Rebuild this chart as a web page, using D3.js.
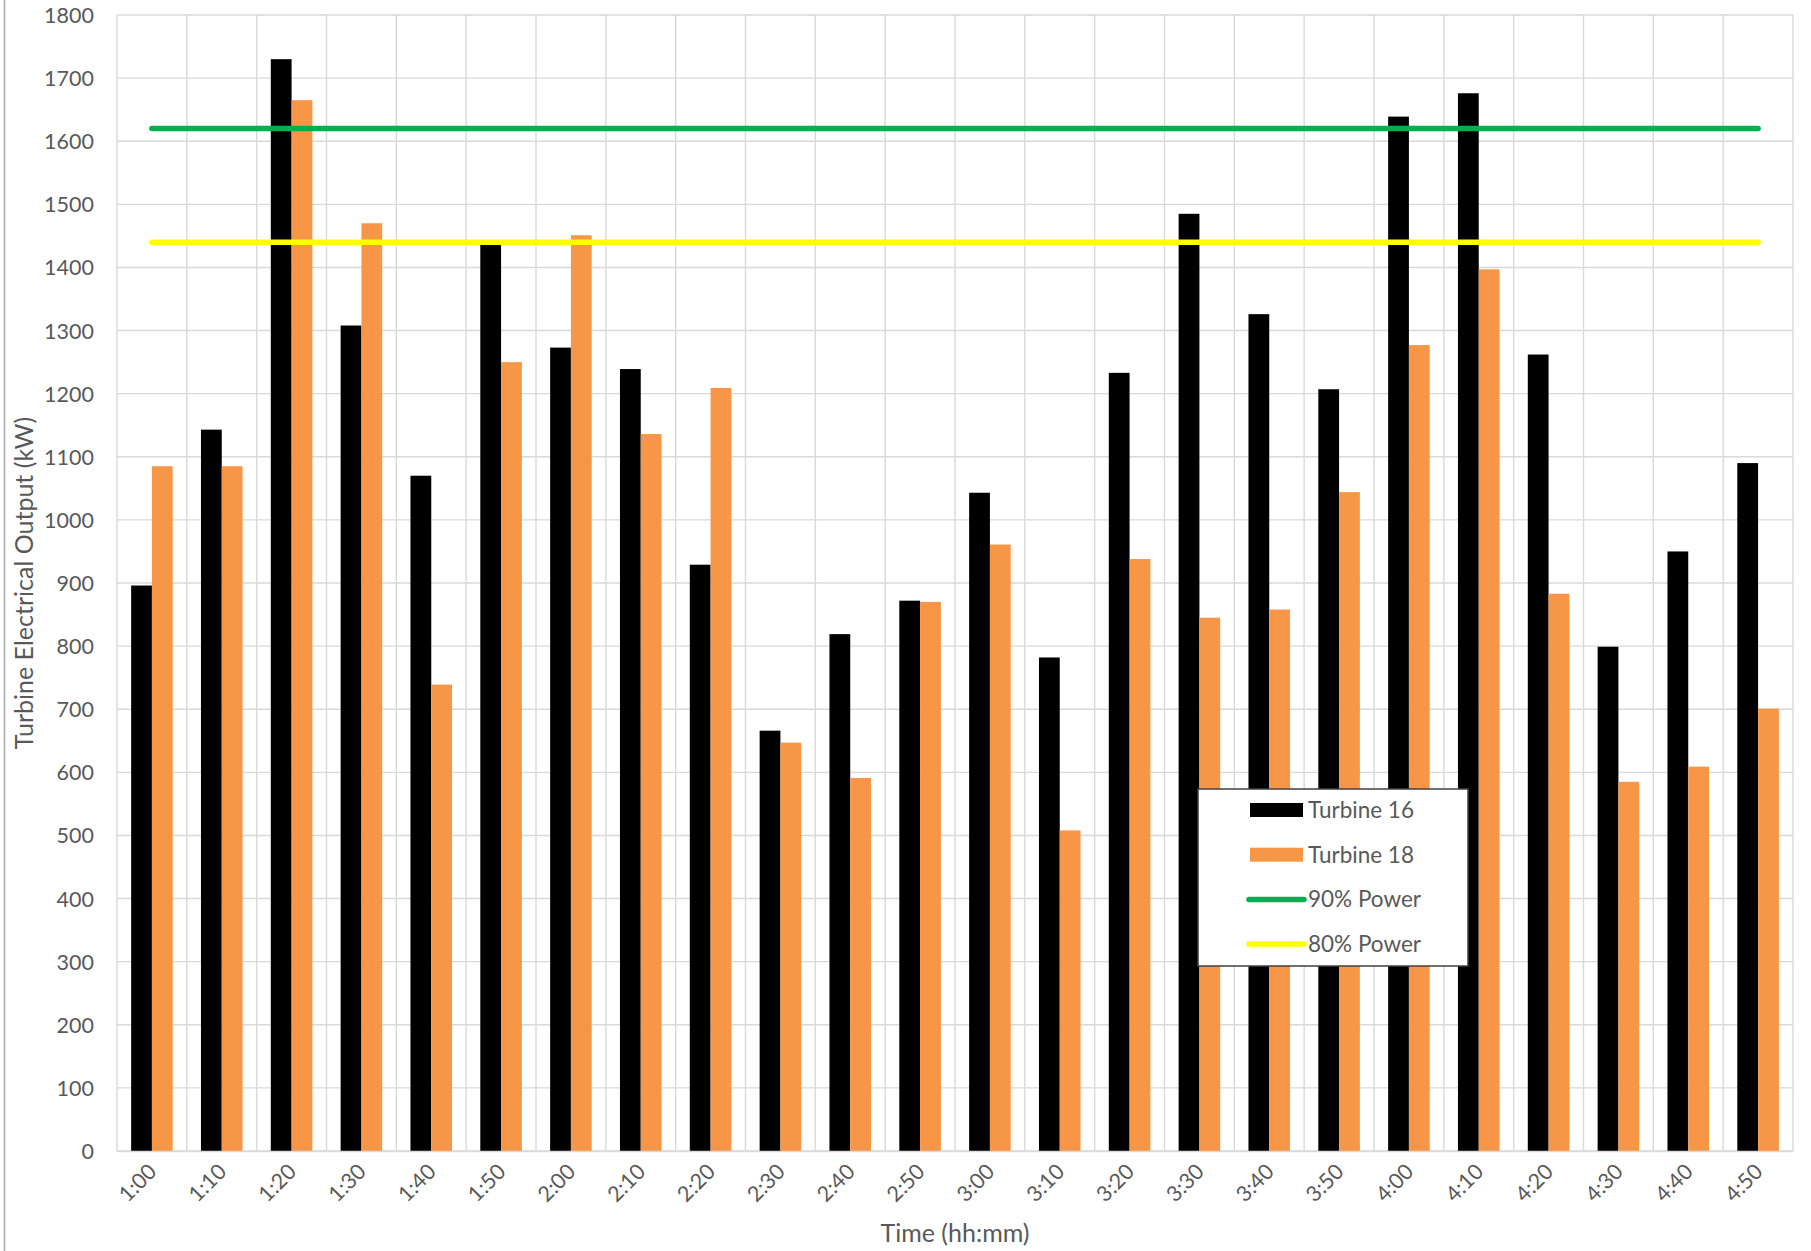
<!DOCTYPE html>
<html>
<head>
<meta charset="utf-8">
<script src="https://cdn.jsdelivr.net/npm/d3@7"></script>
<style>
  html, body { margin: 0; padding: 0; background: #fff; }
  svg { display: block; font-family: "Lato", "Open Sans", sans-serif; }
</style>
</head>
<body>
<svg id="chart" width="1811" height="1251"></svg>
<script>
// Ten-minute sampling times
const times = ["1:00","1:10","1:20","1:30","1:40","1:50","2:00","2:10","2:20","2:30","2:40","2:50",
               "3:00","3:10","3:20","3:30","3:40","3:50","4:00","4:10","4:20","4:30","4:40","4:50"];

// Electrical output per turbine (kW)
const turbine16 = [896,1143,1730,1308,1070,1438,1273,1239,929,666,819,872,
                   1043,782,1233,1485,1326,1207,1639,1676,1262,799,950,1090];
const turbine18 = [1085,1085,1665,1470,739,1250,1451,1136,1209,647,591,870,
                   961,508,938,845,858,1044,1277,1397,883,585,609,701];

// Reference power levels (kW)
const power90 = 1620;
const power80 = 1440;

const seriesNames = ["Turbine 16", "Turbine 18"];
const yTicks = [0,100,200,300,400,500,600,700,800,900,1000,1100,1200,1300,1400,1500,1600,1700,1800];

const colors = { "Turbine 16": "#000000", "Turbine 18": "#F79646" };
const gridColor = "#D9D9D9";
const textColor = "#595959";

const svg = d3.select("#chart");
const plot = { left: 117, right: 1793, top: 15, bottom: 1151 };

const x = d3.scaleBand().domain(times).range([plot.left, plot.right]).paddingInner(0).paddingOuter(0);
const xs = d3.scaleBand().domain(seriesNames).range([0, x.bandwidth()]).paddingInner(0).paddingOuter(0.68);
const y = d3.scaleLinear().domain([0, 1800]).range([plot.bottom, plot.top]);

// outer chart border on the left
svg.append("line")
  .attr("x1", 4.5).attr("x2", 4.5).attr("y1", 0).attr("y2", 1251)
  .attr("stroke", "#A6A6A6").attr("stroke-width", 1.5);

// horizontal gridlines
svg.append("g").selectAll("line").data(yTicks).join("line")
  .attr("x1", plot.left).attr("x2", plot.right)
  .attr("y1", d => y(d)).attr("y2", d => y(d))
  .attr("stroke", gridColor).attr("stroke-width", 1.4);

// vertical gridlines at category boundaries
const bounds = times.map(t => x(t)).concat([x(times[times.length - 1]) + x.bandwidth()]);
svg.append("g").selectAll("line").data(bounds).join("line")
  .attr("x1", d => d).attr("x2", d => d)
  .attr("y1", plot.top).attr("y2", plot.bottom)
  .attr("stroke", gridColor).attr("stroke-width", 1.4);

// bars
const rows = times.map((t, i) => ({ time: t, values: [
  { name: "Turbine 16", value: turbine16[i] },
  { name: "Turbine 18", value: turbine18[i] }
]}));

svg.append("g").selectAll("g").data(rows).join("g")
  .attr("transform", d => `translate(${x(d.time)},0)`)
  .selectAll("rect").data(d => d.values).join("rect")
  .attr("x", d => xs(d.name))
  .attr("width", xs.bandwidth())
  .attr("y", d => y(d.value))
  .attr("height", d => y(0) - y(d.value))
  .attr("fill", d => colors[d.name]);

// reference lines spanning first to last category centre
const refLine = d3.line()
  .x(t => x(t) + x.bandwidth() / 2);

[[power90, "#00B050"], [power80, "#FFFF00"]].forEach(([v, c]) => {
  svg.append("path")
    .datum([times[0], times[times.length - 1]])
    .attr("d", refLine.y(() => y(v)))
    .attr("fill", "none")
    .attr("stroke", c)
    .attr("stroke-width", 5.5)
    .attr("stroke-linecap", "round");
});

// y axis
const yAxis = d3.axisLeft(y).tickValues(yTicks).tickSize(0).tickPadding(0).tickFormat(d3.format("d"));
const gy = svg.append("g").attr("transform", `translate(94,0)`).call(yAxis);
gy.select(".domain").remove();
gy.selectAll("text").attr("fill", textColor).attr("font-size", 21.5).attr("font-family", "Lato, sans-serif").attr("dy", "0.35em");

// x axis
const xAxis = d3.axisBottom(x).tickSize(0).tickPadding(0);
const gx = svg.append("g").attr("transform", `translate(0,${plot.bottom})`).call(xAxis);
gx.select(".domain").attr("stroke", gridColor).attr("stroke-width", 1.4);
gx.selectAll("text")
  .attr("fill", textColor).attr("font-size", 21.5).attr("font-family", "Lato, sans-serif")
  .attr("text-anchor", "end")
  .attr("dy", "0")
  .attr("transform", "translate(6,22) rotate(-45)");

// axis titles
svg.append("text")
  .attr("transform", `translate(33,${(plot.top + plot.bottom) / 2}) rotate(-90)`)
  .attr("text-anchor", "middle")
  .attr("fill", textColor).attr("font-size", 25)
  .text("Turbine Electrical Output (kW)");

svg.append("text")
  .attr("x", (plot.left + plot.right) / 2).attr("y", 1242)
  .attr("text-anchor", "middle")
  .attr("fill", textColor).attr("font-size", 25)
  .text("Time (hh:mm)");

// legend
const legend = svg.append("g").attr("transform", "translate(1198,789)");
legend.append("rect").attr("width", 270).attr("height", 177)
  .attr("fill", "#fff").attr("stroke", "#404040").attr("stroke-width", 1.5);

const legendItems = [
  { label: "Turbine 16", type: "bar", color: colors["Turbine 16"] },
  { label: "Turbine 18", type: "bar", color: colors["Turbine 18"] },
  { label: "90% Power", type: "line", color: "#00B050" },
  { label: "80% Power", type: "line", color: "#FFFF00" }
];
const li = legend.selectAll("g.item").data(legendItems).join("g")
  .attr("class", "item")
  .attr("transform", (d, i) => `translate(0,${21 + i * 44.7})`);
li.filter(d => d.type === "bar").append("rect")
  .attr("x", 52).attr("y", -7).attr("width", 53).attr("height", 14)
  .attr("fill", d => d.color);
li.filter(d => d.type === "line").append("line")
  .attr("x1", 51).attr("x2", 106).attr("y1", 0).attr("y2", 0)
  .attr("stroke", d => d.color).attr("stroke-width", 5.5).attr("stroke-linecap", "round");
li.append("text")
  .attr("x", 110).attr("dy", "0.35em")
  .attr("fill", textColor).attr("font-size", 22.5)
  .text(d => d.label);
</script>
</body>
</html>
